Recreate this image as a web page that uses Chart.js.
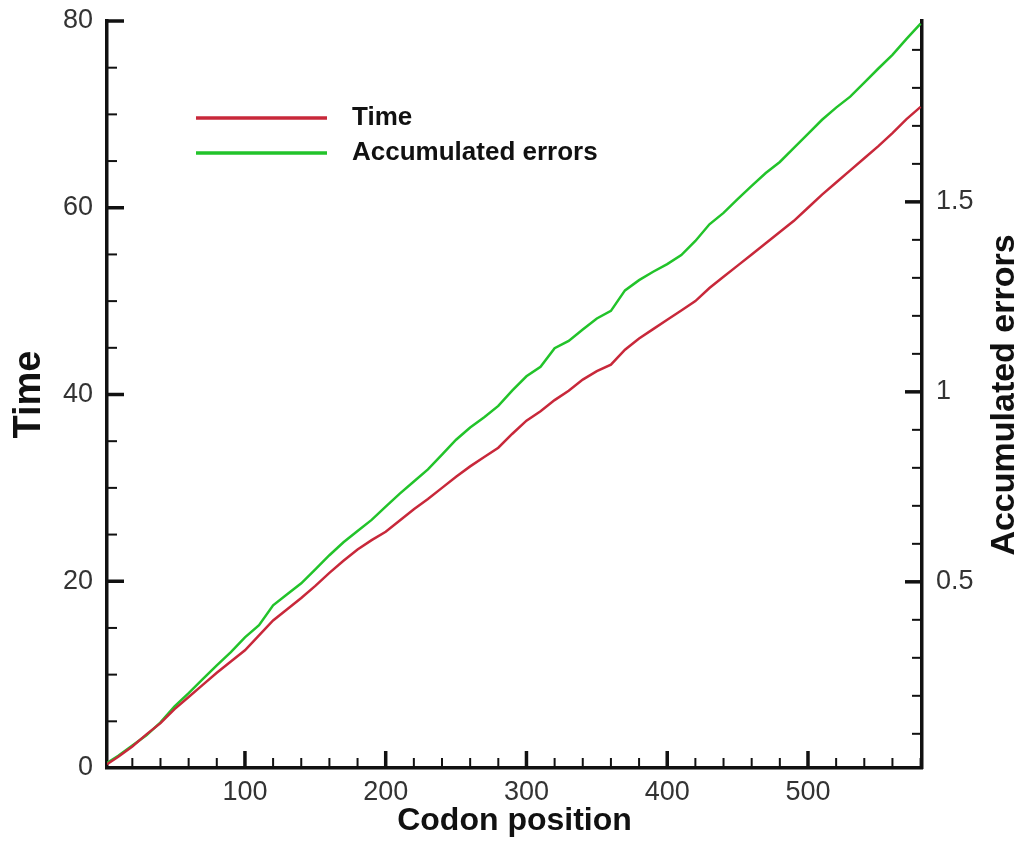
<!DOCTYPE html>
<html lang="en">
<head>
    <meta charset="UTF-8">
    <title>Time and accumulated errors by codon position</title>
    <script src="https://cdn.jsdelivr.net/npm/chart.js"></script>
    <style>
        body { margin: 0; background: #fff; }
    </style>
</head>
<body>
    <canvas id="codonChart" width="1024" height="844"></canvas>
    <script>
const positions = [2, 10, 20, 30, 40, 50, 60, 70, 80, 90,
    100, 110, 120, 130, 140, 150, 160, 170, 180, 190,
    200, 210, 220, 230, 240, 250, 260, 270, 280, 290,
    300, 310, 320, 330, 340, 350, 360, 370, 380, 390,
    400, 410, 420, 430, 440, 450, 460, 470, 480, 490,
    500, 510, 520, 530, 540, 550, 560, 570, 580];

// Time, left axis
const timeValues = [0.4, 1.2, 2.3, 3.6, 4.8, 6.3, 7.6, 8.9, 10.2, 11.4,
    12.6, 14.2, 15.8, 17.0, 18.2, 19.5, 20.9, 22.2, 23.4, 24.4,
    25.3, 26.5, 27.7, 28.8, 30.0, 31.2, 32.3, 33.3, 34.3, 35.8,
    37.2, 38.2, 39.4, 40.4, 41.6, 42.5, 43.2, 44.8, 46.0, 47.0,
    48.0, 49.0, 50.0, 51.4, 52.6, 53.8, 55.0, 56.2, 57.4, 58.6,
    60.0, 61.4, 62.7, 64.0, 65.3, 66.6, 68.0, 69.5, 70.8];

// Accumulated errors, right axis
const errorValues = [0.023, 0.042, 0.069, 0.096, 0.13, 0.172, 0.207, 0.244, 0.28, 0.315,
    0.354, 0.386, 0.438, 0.467, 0.496, 0.533, 0.57, 0.604, 0.634, 0.663,
    0.698, 0.732, 0.764, 0.796, 0.835, 0.874, 0.906, 0.933, 0.963, 1.004,
    1.041, 1.066, 1.115, 1.134, 1.164, 1.193, 1.213, 1.267, 1.294, 1.316,
    1.336, 1.36, 1.397, 1.441, 1.471, 1.507, 1.542, 1.576, 1.605, 1.642,
    1.679, 1.716, 1.748, 1.777, 1.814, 1.851, 1.887, 1.929, 1.969];

const xTickLabels = [100, 200, 300, 400, 500];
const timeTickLabels = [0, 20, 40, 60, 80];
const errorTickLabels = [0.5, 1, 1.5];

const FONT = '"Liberation Sans", Arial, Helvetica, sans-serif';
const RED = '#c8283a';
const GREEN = '#22c32a';

// inward tick marks like the original plot, plus the legend and right title
const framePlugin = {
    id: 'frame',
    afterDatasetsDraw(chart) {
        const { ctx, chartArea: a, scales } = chart;
        ctx.save();
        ctx.strokeStyle = '#111';
        ctx.lineCap = 'butt';
        function mark(x1, y1, x2, y2, w) {
            ctx.lineWidth = w;
            ctx.beginPath();
            ctx.moveTo(x1, y1);
            ctx.lineTo(x2, y2);
            ctx.stroke();
        }
        for (let v = 20; v <= 580; v += 20) {
            const px = scales.x.getPixelForValue(v);
            const big = v % 100 === 0;
            mark(px, a.bottom, px, a.bottom - (big ? 17 : 10), big ? 3.5 : 2);
        }
        for (let v = 5; v <= 80; v += 5) {
            const py = scales.y.getPixelForValue(v);
            const big = v % 20 === 0;
            mark(a.left, py, a.left + (big ? 17 : 10), py, big ? 3.5 : 2);
        }
        for (let k = 1; k <= 19; k++) {
            const py = scales.y2.getPixelForValue(k / 10);
            const big = k % 5 === 0;
            mark(a.right, py, a.right - (big ? 17 : 10), py, big ? 3.5 : 2);
        }

        // legend
        ctx.font = 'bold 26px ' + FONT;
        ctx.textBaseline = 'middle';
        ctx.textAlign = 'left';
        ctx.fillStyle = '#111';
        const rows = chart.data.datasets;
        rows.forEach((ds, i) => {
            const y = 118 + i * 35;
            ctx.strokeStyle = ds.borderColor;
            mark(196, y, 327, y, 3.5);
            ctx.fillText(ds.label, 352, y);
        });

        // right axis title reads bottom to top
        ctx.translate(1005, 395);
        ctx.rotate(-Math.PI / 2);
        ctx.textAlign = 'center';
        ctx.font = 'bold 34px ' + FONT;
        ctx.fillText('Accumulated errors', 0, 0);
        ctx.restore();
    }
};

function fixWidth(w) {
    return s => {
        s.width = w;
        s.paddingTop = 0;
        s.paddingBottom = 0;
    };
}

const ctx = document.getElementById('codonChart').getContext('2d');

const codonChart = new Chart(ctx, {
    type: 'line',
    data: {
        datasets: [
            {
                label: 'Time',
                data: positions.map((x, i) => ({ x: x, y: timeValues[i] })),
                borderColor: RED,
                borderWidth: 2.5,
                pointRadius: 0,
                yAxisID: 'y',
                fill: false
            },
            {
                label: 'Accumulated errors',
                data: positions.map((x, i) => ({ x: x, y: errorValues[i] })),
                borderColor: GREEN,
                borderWidth: 2.5,
                pointRadius: 0,
                yAxisID: 'y2',
                fill: false
            }
        ]
    },
    options: {
        responsive: false,
        animation: false,
        devicePixelRatio: 1,
        layout: { padding: { top: 21, left: 0, right: 0, bottom: 0 } },
        plugins: {
            legend: { display: false },
            tooltip: { enabled: false }
        },
        scales: {
            x: {
                type: 'linear',
                min: 2,
                max: 581,
                grid: { display: false, drawTicks: false },
                border: { display: true, width: 3.5, color: '#111' },
                afterBuildTicks: s => { s.ticks = xTickLabels.map(v => ({ value: v })); },
                afterFit: s => { s.height = 76; s.paddingLeft = 0; s.paddingRight = 0; },
                ticks: {
                    padding: 8,
                    color: '#333',
                    font: { family: FONT, size: 27 }
                },
                title: {
                    display: true,
                    text: 'Codon position',
                    color: '#111',
                    padding: { top: 0, bottom: 7 },
                    font: { family: FONT, size: 32, weight: 'bold', lineHeight: 1 }
                }
            },
            y: {
                type: 'linear',
                position: 'left',
                min: 0,
                max: 80,
                grid: { display: false, drawTicks: false },
                border: { display: true, width: 3.5, color: '#111' },
                afterBuildTicks: s => { s.ticks = timeTickLabels.map(v => ({ value: v })); },
                afterFit: fixWidth(107),
                ticks: {
                    padding: 14,
                    color: '#333',
                    font: { family: FONT, size: 27 }
                },
                title: {
                    display: true,
                    text: 'Time',
                    color: '#111',
                    padding: { top: 11, bottom: 0 },
                    font: { family: FONT, size: 38, weight: 'bold', lineHeight: 1 }
                }
            },
            y2: {
                type: 'linear',
                position: 'right',
                min: 0.01,
                max: 1.976,
                grid: { display: false, drawTicks: false },
                border: { display: true, width: 3.5, color: '#111' },
                afterBuildTicks: s => { s.ticks = errorTickLabels.map(v => ({ value: v })); },
                afterFit: fixWidth(102),
                ticks: {
                    padding: 14,
                    color: '#333',
                    font: { family: FONT, size: 27 },
                    callback: v => String(v)
                }
            }
        }
    },
    plugins: [framePlugin]
});
    </script>
</body>
</html>
